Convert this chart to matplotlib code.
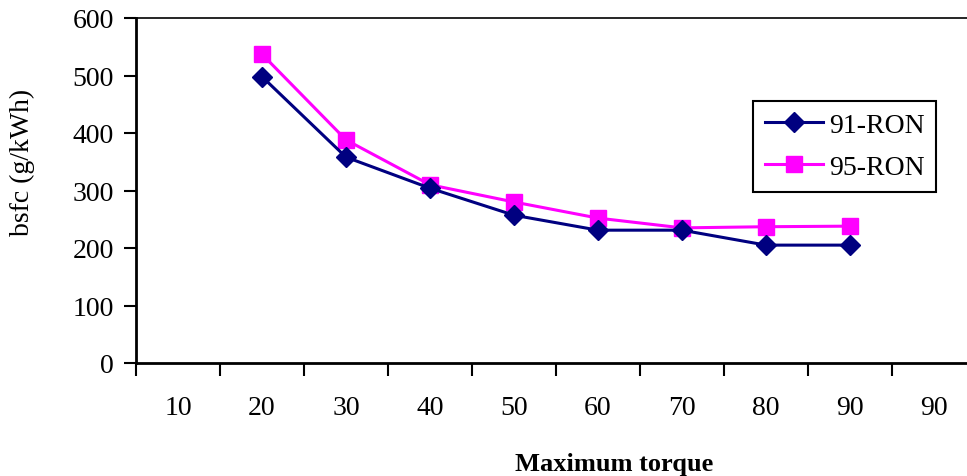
import numpy as np
import matplotlib.pyplot as plt
from matplotlib.ticker import FixedLocator, NullFormatter, FixedFormatter

plt.rcParams['font.family'] = ['Liberation Serif', 'DejaVu Serif']

categories = ['10', '20', '30', '40', '50', '60', '70', '80', '90', '90']
ron91 = [None, 498, 358, 304, 257, 231, 231, 205, 205, None]
ron95 = [None, 537, 388, 310, 280, 252, 235, 237, 238, None]


def series(vals):
    idx = [i for i, v in enumerate(vals) if v is not None]
    return np.array(idx), np.array([vals[i] for i in idx])


W, H = 967, 477
fig = plt.figure(figsize=(W / 100, H / 100), dpi=100)
# plot area: left 136px, top 19px, bottom 364px, runs past the right edge
ax = fig.add_axes([136 / W, 1 - 364 / H, 840 / W, 345 / H])

x, y = series(ron91)
ax.plot(x, y, color='#000080', lw=2.2, marker='D', ms=10, mfc='#000080',
        mec='#000080', label='91-RON', zorder=3)
x, y = series(ron95)
ax.plot(x, y, color='#ff00ff', lw=2.2, marker='s', ms=11.5, mfc='#ff00ff',
        mec='#ff00ff', label='95-RON', zorder=2)

n = len(categories)
ax.set_xlim(-0.5, n - 0.5)
ax.set_ylim(0, 600)
ax.set_yticks(np.arange(0, 601, 100))

ax.xaxis.set_major_locator(FixedLocator(np.arange(-0.5, n, 1.0)))
ax.xaxis.set_major_formatter(NullFormatter())
ax.xaxis.set_minor_locator(FixedLocator(np.arange(n)))
ax.xaxis.set_minor_formatter(FixedFormatter(categories))
ax.tick_params(axis='x', which='major', length=9, width=1.5, direction='out')
ax.tick_params(axis='x', which='minor', length=0, labelsize=20, pad=23)
ax.tick_params(axis='y', length=9, width=1.5, direction='out', labelsize=20, pad=7)

for s in ['left', 'bottom']:
    ax.spines[s].set_linewidth(2)
ax.spines['top'].set_linewidth(1.2)
ax.spines['right'].set_visible(False)

fig.text(22 / W, 1 - 162 / H, 'bsfc (g/kWh)', rotation=90, ha='center',
         va='center', fontsize=20)
fig.text(614 / W, 1 - 465 / H, 'Maximum torque', ha='center', va='center',
         fontsize=19, fontweight='bold')

leg = ax.legend(loc='upper left', bbox_to_anchor=(753 / W, 1 - 102 / H),
                bbox_transform=fig.transFigure, fontsize=20, frameon=True,
                fancybox=False, framealpha=1, edgecolor='black',
                borderpad=0.42, labelspacing=0.6, handlelength=2.1,
                handletextpad=0.22, borderaxespad=0)
leg.get_frame().set_linewidth(1.5)

fig.savefig('out.png', dpi=100)
